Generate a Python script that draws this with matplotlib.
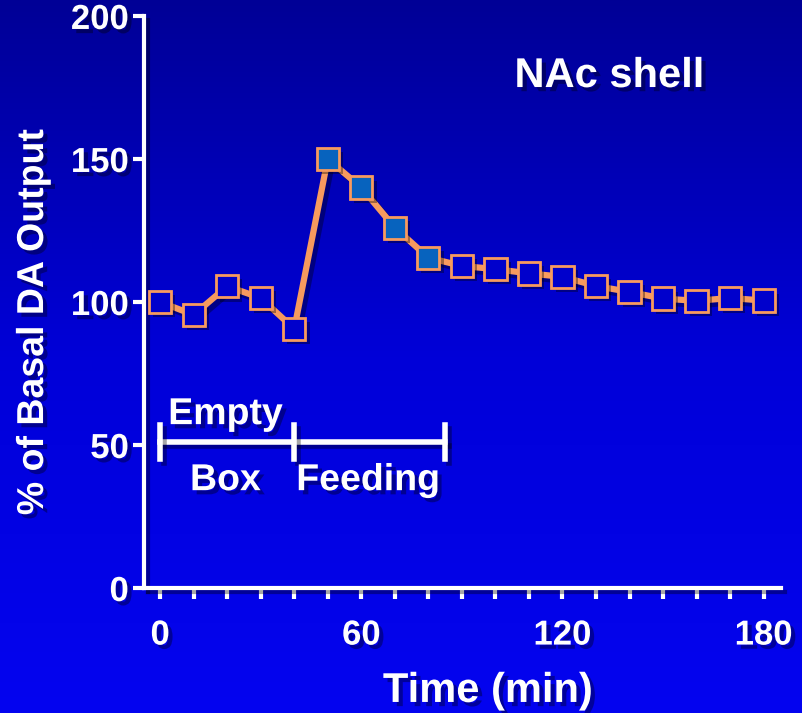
import numpy as np
import matplotlib.pyplot as plt
import matplotlib.patheffects as pe
from matplotlib.colors import LinearSegmentedColormap

plt.rcParams['font.family'] = ['Liberation Sans', 'DejaVu Sans']
plt.rcParams['font.weight'] = 'bold'

# data
time_min = [0, 10, 20, 30, 40, 50, 60, 70, 80, 90, 100, 110, 120, 130, 140, 150, 160, 170, 180]
da_output = [100, 95.5, 105.5, 101.4, 90.6, 150, 140, 126, 115.5, 112.6, 111.5, 110, 108.8,
             105.6, 103.5, 101.2, 100.4, 101.4, 100.5]
feeding_idx = [5, 6, 7, 8]  # points drawn with the lighter fill
xtick_vals = [0, 60, 120, 180]
ytick_vals = [0, 50, 100, 150, 200]
period_edges = [0, 40, 85]

orange = '#F79A5E'
dark_fill = '#0000CC'
light_fill = '#0763BE'
shadow = [pe.SimplePatchShadow(offset=(3, -3), shadow_rgbFace='black', alpha=0.35), pe.Normal()]
line_shadow = [pe.SimpleLineShadow(offset=(3, -3), shadow_color='black', alpha=0.35), pe.Normal()]

fig = plt.figure(figsize=(8.02, 7.13), dpi=100)

# background gradient
bg = fig.add_axes([0, 0, 1, 1], zorder=-10)
cmap = LinearSegmentedColormap.from_list('bg', ['#000096', '#0000D8', '#0404F0'])
bg.imshow(np.linspace(0, 1, 256).reshape(-1, 1), aspect='auto', cmap=cmap,
          extent=[0, 1, 0, 1])
bg.axis('off')

ax = fig.add_axes([0.1796, 0.1753, 0.7943, 0.8023])
ax.set_facecolor('none')
ax.set_xlim(-4.8, 185.2)
ax.set_ylim(0, 200)

ax.plot(time_min, da_output, color=orange, lw=4.5, zorder=3, path_effects=line_shadow)
fills = [light_fill if i in feeding_idx else dark_fill for i in range(len(time_min))]
for t, v, c in zip(time_min, da_output, fills):
    ax.plot(t, v, marker='s', ms=16, mfc=c, mec=orange, mew=2, zorder=4,
            path_effects=shadow)

# spines and ticks
for side in ['top', 'right']:
    ax.spines[side].set_visible(False)
for side in ['left', 'bottom']:
    ax.spines[side].set_color('white')
    ax.spines[side].set_linewidth(3)
    ax.spines[side].set_path_effects(line_shadow)

ax.set_yticks(ytick_vals)
ax.set_xticks(xtick_vals)
ax.set_xticks(np.arange(0, 181, 10), minor=True)
ax.tick_params(axis='both', which='both', colors='white', width=3, length=8,
               labelsize=25, pad=3)
ax.tick_params(axis='x', which='major', pad=14)
for lbl in ax.get_xticklabels() + ax.get_yticklabels():
    lbl.set_fontweight('bold')
    lbl.set_path_effects(shadow)

ax.set_xlabel('Time (min)', color='white', fontsize=30, fontweight='bold',
              path_effects=shadow)
ax.xaxis.set_label_coords(0.54, -0.145)
ax.set_ylabel('% of Basal DA Output', color='white', fontsize=27, fontweight='bold',
              path_effects=shadow)
ax.yaxis.set_label_coords(-0.146, 0.465)

# period bar
ax.plot([period_edges[0], period_edges[-1]], [51, 51], color='white', lw=4,
        zorder=2, path_effects=line_shadow)
for e in period_edges:
    ax.plot([e, e], [45, 57], color='white', lw=4, zorder=2, path_effects=line_shadow)
ax.text(19.5, 54.5, 'Empty', color='white', fontsize=27, fontweight='bold',
        ha='center', va='bottom', path_effects=shadow)
ax.text(19.5, 44, 'Box', color='white', fontsize=27, fontweight='bold',
        ha='center', va='top', path_effects=shadow)
ax.text(62, 44, 'Feeding', color='white', fontsize=27, fontweight='bold',
        ha='center', va='top', path_effects=shadow)

ax.text(134, 179, 'NAc shell', color='white', fontsize=30, fontweight='bold',
        ha='center', va='center', path_effects=shadow)

fig.savefig('out.png', dpi=100)
